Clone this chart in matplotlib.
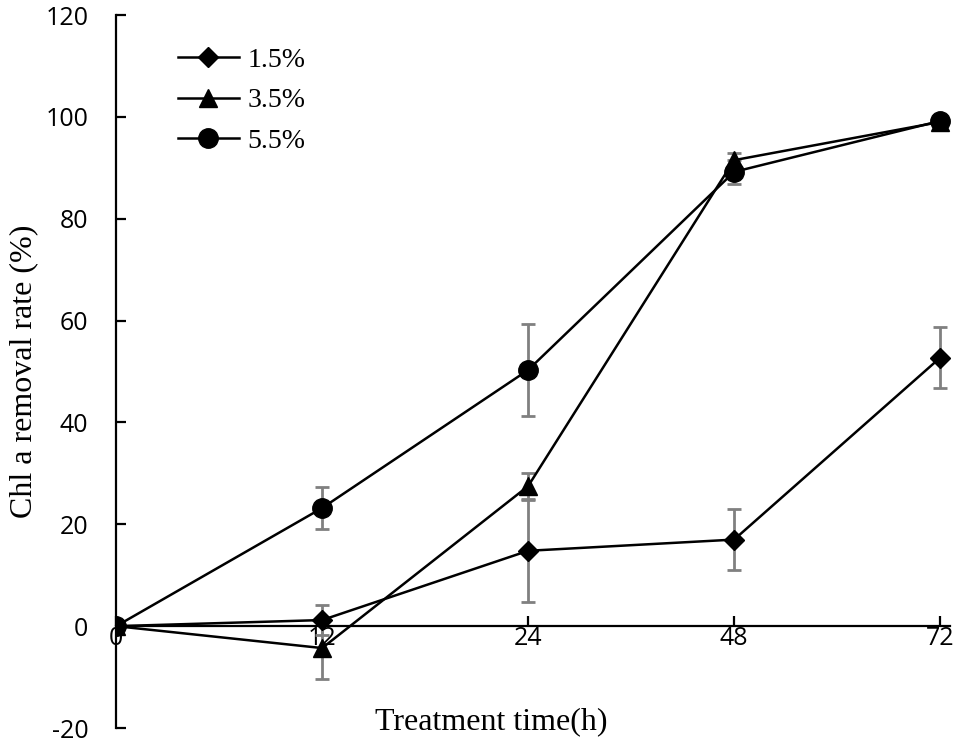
import matplotlib
matplotlib.use('Agg')
import matplotlib.pyplot as plt
import numpy as np

plt.rcParams['axes.unicode_minus'] = False

# Datos
times = ['0', '12', '24', '48', '72']
rate_15 = [0, 1.2, 14.8, 17.0, 52.7]
err_15 = [0, 3.0, 10.0, 6.0, 6.0]
rate_35 = [0, -4.3, 27.5, 91.5, 99.0]
err_35 = [0, 6.0, 2.5, 1.5, 0.5]
rate_55 = [0, 23.2, 50.3, 89.2, 99.2]
err_55 = [0, 4.2, 9.0, 2.4, 0.5]
labels = ['1.5%', '3.5%', '5.5%']

x = np.arange(len(times))

fig = plt.figure(figsize=(9.6, 7.47), dpi=100)
ax = fig.add_axes([0.121, 0.0254, 0.869, 0.9545])

series = [(rate_15, err_15, 'D', 10), (rate_35, err_35, '^', 13), (rate_55, err_55, 'o', 14)]
for (vals, errs, mk, ms), lab in zip(series, labels):
    ax.errorbar(x, vals, yerr=errs, fmt='none', ecolor='#808080', elinewidth=2,
                capsize=5, capthick=2, zorder=2)
    ax.plot(x, vals, color='black', marker=mk, markersize=ms, linewidth=1.8,
            label=lab, zorder=3)

ax.set_xlim(0, 4.05)
ax.set_ylim(-20, 120)
ax.set_xticks(x)
ax.set_xticklabels(times)
ax.set_yticks(np.arange(-20, 121, 20))

for s in ['top', 'right']:
    ax.spines[s].set_visible(False)
ax.spines['bottom'].set_position(('data', 0))
ax.spines['left'].set_linewidth(1.6)
ax.spines['bottom'].set_linewidth(1.6)

ax.tick_params(axis='y', direction='in', length=7, width=1.6, pad=20,
               labelsize=18)
ax.tick_params(axis='x', direction='in', length=7, width=1.6, pad=0,
               labelsize=18)
for t in ax.get_xticklabels() + ax.get_yticklabels():
    t.set_family('Open Sans')

ax.set_xlabel('Treatment time(h)', family='Liberation Serif', fontsize=23)
ax.xaxis.set_label_coords(0.45, 0.0295)
ax.set_ylabel('Chl a removal rate (%)', family='Liberation Serif', fontsize=23)
ax.yaxis.set_label_coords(-0.094, 0.50)

leg = ax.legend(loc='upper left', bbox_to_anchor=(0.074, 0.955), frameon=False,
                prop={'family': 'Liberation Serif', 'size': 20},
                handlelength=2.2, handletextpad=0.3, labelspacing=0.55,
                borderaxespad=0, borderpad=0)

fig.savefig('out.png', dpi=100)
